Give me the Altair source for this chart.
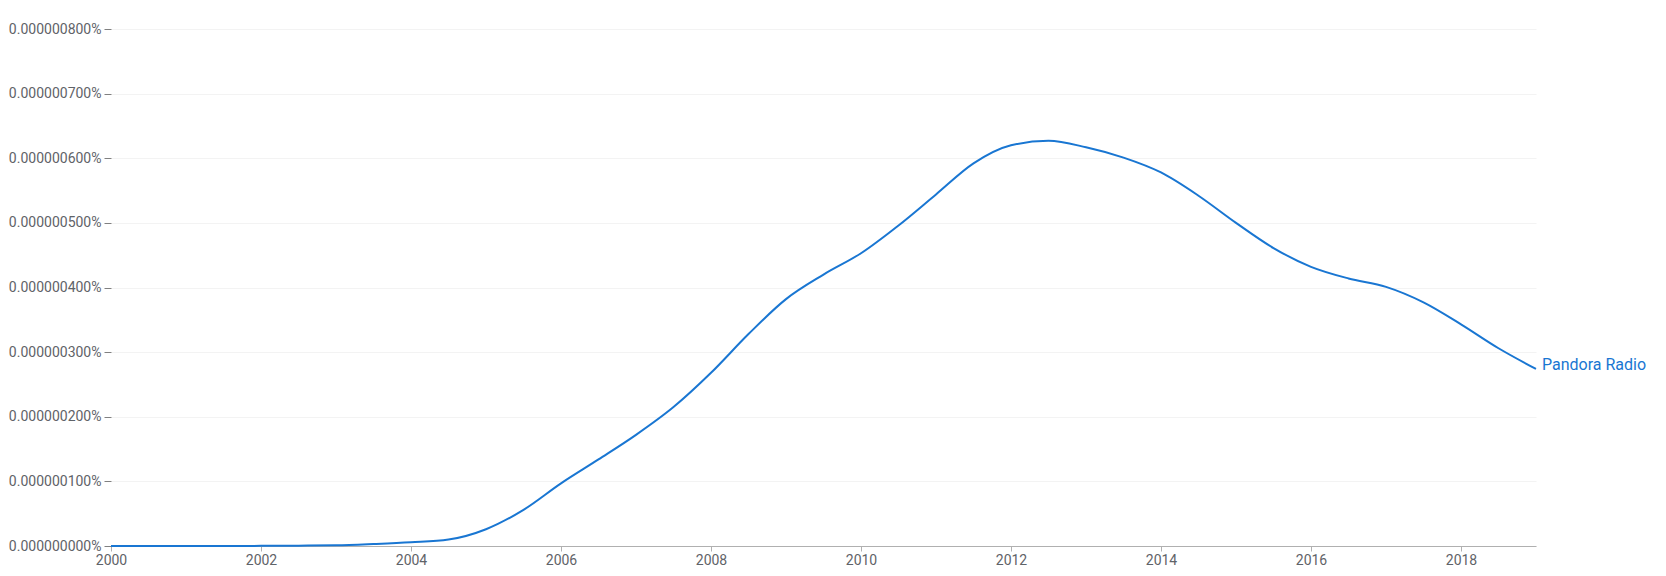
import altair as alt
import pandas as pd

years = [2000, 2000.5, 2001, 2001.5, 2002, 2002.5, 2003, 2003.5, 2004, 2004.5,
         2005, 2005.5, 2006, 2006.5, 2007, 2007.5, 2008, 2008.5, 2009, 2009.5,
         2010, 2010.5, 2011, 2011.5, 2012, 2012.5, 2013, 2013.5, 2014, 2014.5,
         2015, 2015.5, 2016, 2016.5, 2017, 2017.5, 2018, 2018.5, 2019]
# frequency in percent
values = [0.0, 0.0, 0.0, 0.0, 0.002e-7, 0.005e-7, 0.010e-7, 0.030e-7, 0.057e-7, 0.10e-7,
          0.26e-7, 0.56e-7, 0.97e-7, 1.34e-7, 1.72e-7, 2.15e-7, 2.68e-7, 3.28e-7, 3.82e-7, 4.20e-7,
          4.53e-7, 4.96e-7, 5.44e-7, 5.92e-7, 6.20e-7, 6.27e-7, 6.17e-7, 6.01e-7, 5.78e-7, 5.42e-7,
          5.00e-7, 4.61e-7, 4.32e-7, 4.14e-7, 4.01e-7, 3.77e-7, 3.43e-7, 3.06e-7, 2.74e-7]
series_name = "Pandora Radio"
x_ticks = [2000, 2002, 2004, 2006, 2008, 2010, 2012, 2014, 2016, 2018]
y_ticks = [0, 1e-7, 2e-7, 3e-7, 4e-7, 5e-7, 6e-7, 7e-7, 8e-7]

df = pd.DataFrame({"year": years, "value": values, "series": series_name})
last = df.tail(1)

color = "#1976d2"

x = alt.X("year:Q", scale=alt.Scale(domain=[2000, 2019], nice=False, zero=False),
          axis=alt.Axis(values=x_ticks, format="d", title=None, grid=False,
                        domainColor="#b0b0b0", tickColor="#b0b0b0", tickSize=5,
                        labelColor="#5f6368", labelFontSize=14, labelFont="Roboto",
                        labelPadding=2, labelFlush=False))
y = alt.Y("value:Q", scale=alt.Scale(domain=[0, 8e-7], nice=False),
          axis=alt.Axis(values=y_ticks, labelExpr="format(datum.value, '.9f') + '%'",
                        title=None, grid=True, gridColor="#f3f3f3", domain=False,
                        tickColor="#808080", tickSize=7, labelColor="#5f6368",
                        labelFontSize=14, labelFont="Roboto", labelPadding=3))

line = alt.Chart(df).mark_line(color=color, strokeWidth=2, interpolate="monotone").encode(
    x=x, y=y)

label = alt.Chart(last).mark_text(align="left", baseline="middle", dx=6, dy=-4,
                                  fontSize=16, font="Roboto", color=color).encode(
    x="year:Q", y="value:Q", text="series:N")

chart = alt.layer(line, label).properties(
    width=1425, height=517,
    padding={"left": 0, "top": 14, "right": 5, "bottom": 5},
    background="white",
).configure_view(stroke=None)

chart.save("out.html", embed_options={"renderer": "svg", "actions": False})
